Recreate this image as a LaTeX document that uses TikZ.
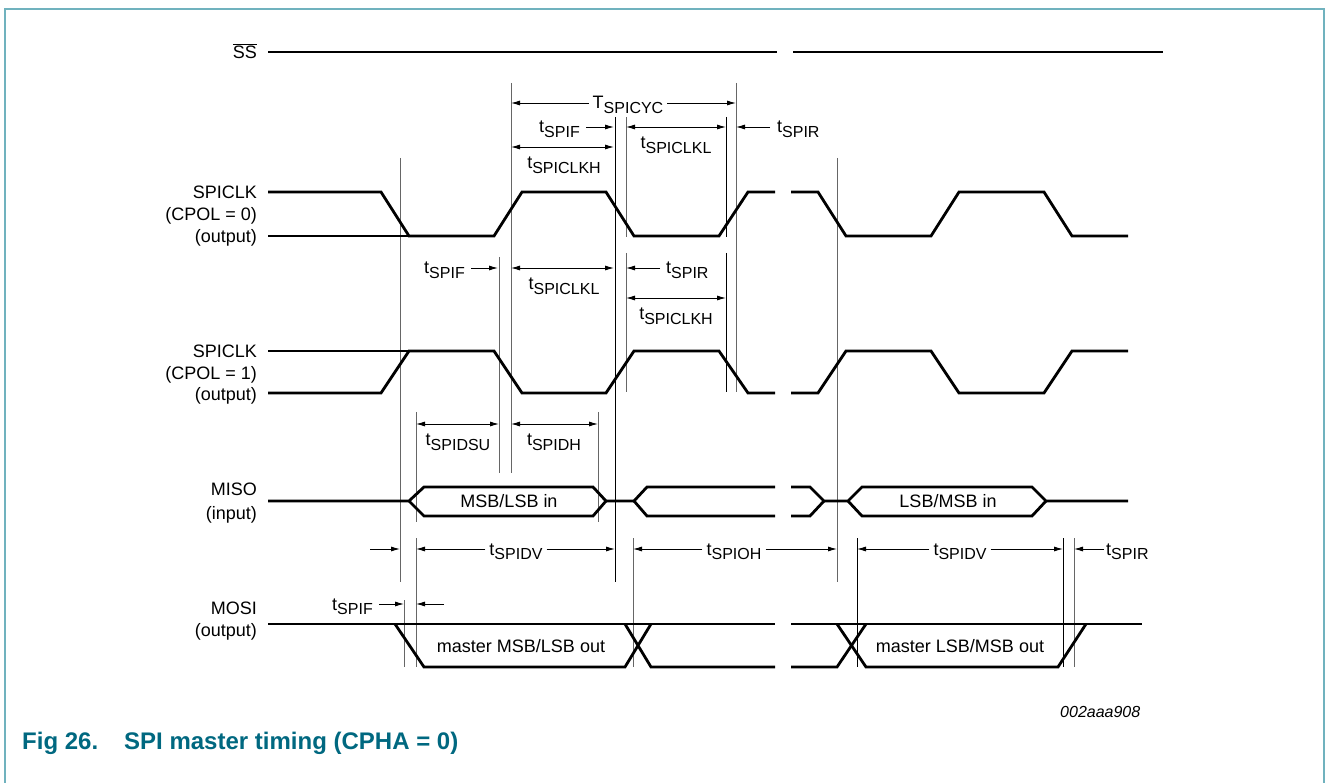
\documentclass[tikz,border=0pt]{standalone}
\usepackage{fontspec}
\setmainfont{Liberation Sans}
\usetikzlibrary{arrows.meta,positioning}

\definecolor{framecol}{RGB}{112,178,190}
\definecolor{capcol}{RGB}{0,104,128}

% t with lowered subscript
\newcommand{\tsub}[2]{#1\raisebox{-4.5pt}{\fontsize{16}{16}\selectfont #2}}

\begin{document}
\begin{tikzpicture}[x=1pt,y=-1pt,
				wave/.style={line width=2.8pt, line join=miter},
				guide/.style={line width=0.9pt, black!60},
				dim/.style={line width=0.9pt, -{Latex[length=9pt,width=5pt]}},
				ddim/.style={line width=0.9pt, {Latex[length=9pt,width=5pt]}-{Latex[length=9pt,width=5pt]}},
				sig/.style={anchor=base east, inner sep=0pt, font=\fontsize{18}{21}\selectfont},
				lbl/.style={anchor=base, inner xsep=4pt, inner ysep=0pt, font=\fontsize{18}{21}\selectfont},
				]
				\useasboundingbox (0,0) rectangle (1326,783);
				%Frame
				\draw[framecol, line width=2pt] (5,783) -- (5,9) -- (1324,9) -- (1324,783);

				%Signal names
				\node[sig] (ss)    at (257,58.5)  {$\overline{\hbox{SS}}$};
				\node[sig] (clka)  at (257,198.5) {SPICLK};
				\node[sig] (pola)  at (257,220.5) {(CPOL = 0)};
				\node[sig] (outa)  at (257,242.5) {(output)};
				\node[sig] (clkb)  at (257,357.5) {SPICLK};
				\node[sig] (polb)  at (257,379.5) {(CPOL = 1)};
				\node[sig] (outb)  at (257,400.5) {(output)};
				\node[sig] (miso)  at (257,496)   {MISO};
				\node[sig] (misoi) at (257,519)   {(input)};
				\node[sig] (mosi)  at (257,614.5) {MOSI};
				\node[sig] (mosio) at (257,636.5) {(output)};

				%Guide lines
				\draw[guide] (400,158) -- (400,582);
				\draw[guide] (416,412) -- (416,522);
				\draw[guide] (416,538) -- (416,667);
				\draw[guide] (404,600) -- (404,667);
				\draw[guide] (499,257) -- (499,473);
				\draw[guide] (511,83) -- (511,473);
				\draw[guide] (598,412) -- (598,522);
				\draw[guide, black] (615,117) -- (615,582);
				\draw[guide] (626,117) -- (626,237);
				\draw[guide] (626,253) -- (626,392);
				\draw[guide] (633,538) -- (633,667);
				\draw[guide, black] (726,117) -- (726,237);
				\draw[guide, black] (726,253) -- (726,392);
				\draw[guide] (736,83) -- (736,392);
				\draw[guide] (837,158) -- (837,582);
				\draw[guide, black] (857,538) -- (857,667);
				\draw[guide, black] (1063,538) -- (1063,667);
				\draw[guide] (1074,538) -- (1074,667);

				%Waveforms
				\draw[wave] (268,52) -- (777,52);
				\draw[wave] (793,52) -- (1163,52);

				\draw[wave] (268,236) -- (409,236);
				\draw[wave] (268,192) -- (381,192) -- (409,236) -- (494,236) -- (522,192) -- (606,192) -- (634,236) -- (719,236) -- (748,192) -- (775,192);
				\draw[wave] (791,192) -- (818,192) -- (846,236) -- (931,236) -- (959,192) -- (1044,192) -- (1072,236) -- (1128,236);

				\draw[wave] (268,351) -- (409,351);
				\draw[wave] (268,393) -- (381,393) -- (409,351) -- (494,351) -- (522,393) -- (606,393) -- (634,351) -- (719,351) -- (748,393) -- (775,393);
				\draw[wave] (791,393) -- (818,393) -- (846,351) -- (931,351) -- (959,393) -- (1044,393) -- (1072,351) -- (1128,351);

				\draw[wave] (268,501) -- (409,501) -- (424,487) -- (593,487) -- (606,501) -- (634,501) -- (647,487) -- (775,487);
				\draw[wave] (409,501) -- (424,516) -- (593,516) -- (606,501);
				\draw[wave] (634,501) -- (647,516) -- (775,516);
				\draw[wave] (791,487) -- (810,487) -- (824,501) -- (848,501) -- (862,487) -- (1032,487) -- (1046,501) -- (1128,501);
				\draw[wave] (791,516) -- (810,516) -- (824,501);
				\draw[wave] (848,501) -- (862,516) -- (1032,516) -- (1046,501);
				\node[font=\fontsize{18}{21}\selectfont] (msbin) at (509,501) {MSB/LSB in};
				\node[font=\fontsize{18}{21}\selectfont] (lsbin) at (948,501) {LSB/MSB in};

				\draw[wave] (268,624) -- (775,624);
				\draw[wave] (791,624) -- (1142,624);
				\draw[wave] (395,624) -- (424,667) -- (625,667) -- (651,624);
				\draw[wave] (625,624) -- (651,667) -- (775,667);
				\draw[wave] (791,667) -- (837,667) -- (866,624);
				\draw[wave] (837,624) -- (866,667) -- (1058,667) -- (1086,624);
				\node[font=\fontsize{18}{21}\selectfont] (msbout) at (521,646) {master MSB/LSB out};
				\node[font=\fontsize{18}{21}\selectfont] (lsbout) at (960,646) {master LSB/MSB out};

				%Timing labels, top
				\coordinate (cyca) at (511,103);
				\coordinate (cycb) at (736,103);
				\node[lbl] (tcyc) at (628,109) {\tsub{T}{SPICYC}};
				\draw[dim] (tcyc.west |- cyca) -- (cyca);
				\draw[dim] (tcyc.east |- cycb) -- (cycb);

				\coordinate (fa) at (614,127);
				\node[lbl, anchor=base east, inner xsep=6pt] (tfa) at (586,133) {\tsub{t}{SPIF}};
				\draw[dim] (tfa.east |- fa) -- (fa);
				\draw[ddim] (626,127) -- (726,127);
				\node[lbl] (tkla) at (676,149) {\tsub{t}{SPICLKL}};
				\coordinate (ra) at (736,127);
				\node[lbl, anchor=base west, inner xsep=7pt] (tra) at (770,133) {\tsub{t}{SPIR}};
				\draw[dim] (tra.west |- ra) -- (ra);
				\draw[ddim] (511,147) -- (614,147);
				\node[lbl] (tkha) at (564,169) {\tsub{t}{SPICLKH}};

				%Timing labels, CPOL = 1
				\coordinate (fb) at (498,268);
				\node[lbl, anchor=base east, inner xsep=6pt] (tfb) at (471,274) {\tsub{t}{SPIF}};
				\draw[dim] (tfb.east |- fb) -- (fb);
				\draw[ddim] (511,268) -- (614,268);
				\node[lbl] (tklb) at (564,290) {\tsub{t}{SPICLKL}};
				\coordinate (rb) at (626,268);
				\node[lbl, anchor=base west, inner xsep=6pt] (trb) at (660,274) {\tsub{t}{SPIR}};
				\draw[dim] (trb.west |- rb) -- (rb);
				\draw[ddim] (626,298) -- (726,298);
				\node[lbl] (tkhb) at (676,320) {\tsub{t}{SPICLKH}};
				\draw[ddim] (416,424) -- (499,424);
				\node[lbl] (tsu) at (458,446) {\tsub{t}{SPIDSU}};
				\draw[ddim] (511,424) -- (598,424);
				\node[lbl] (th) at (554,446) {\tsub{t}{SPIDH}};

				%Timing labels, MISO
				\coordinate (pa) at (370,549);
				\coordinate (pb) at (400,549);
				\draw[dim] (pa) -- (pb);
				\coordinate (dva) at (416,549);
				\coordinate (dvb) at (615,549);
				\node[lbl] (tdva) at (516,555) {\tsub{t}{SPIDV}};
				\draw[dim] (tdva.west |- dva) -- (dva);
				\draw[dim] (tdva.east |- dvb) -- (dvb);
				\coordinate (oha) at (633,549);
				\coordinate (ohb) at (837,549);
				\node[lbl] (toh) at (734,555) {\tsub{t}{SPIOH}};
				\draw[dim] (toh.west |- oha) -- (oha);
				\draw[dim] (toh.east |- ohb) -- (ohb);
				\coordinate (dvc) at (857,549);
				\coordinate (dvd) at (1063,549);
				\node[lbl] (tdvb) at (960,555) {\tsub{t}{SPIDV}};
				\draw[dim] (tdvb.west |- dvc) -- (dvc);
				\draw[dim] (tdvb.east |- dvd) -- (dvd);
				\coordinate (rc) at (1074,549);
				\node[lbl, anchor=base west, inner xsep=2pt] (trc) at (1104,555) {\tsub{t}{SPIR}};
				\draw[dim] (trc.west |- rc) -- (rc);

				%Timing labels, MOSI
				\coordinate (fc) at (404,604);
				\node[lbl, anchor=base east, inner xsep=6pt] (tfc) at (379,610) {\tsub{t}{SPIF}};
				\draw[dim] (tfc.east |- fc) -- (fc);
				\coordinate (fd) at (444,604);
				\coordinate (fe) at (416,604);
				\draw[dim] (fd) -- (fe);

				%Caption
				\node[anchor=base west, inner sep=0pt, font=\fontsize{16}{19}\selectfont\itshape] (fid) at (1060,717) {002aaa908};
				\node[anchor=base west, inner sep=0pt, text=capcol, font=\fontsize{24}{28}\selectfont\bfseries] (cap) at (22,749.5) {Fig 26.\hspace{26pt}SPI master timing (CPHA = 0)};
			\end{tikzpicture}
\end{document}
